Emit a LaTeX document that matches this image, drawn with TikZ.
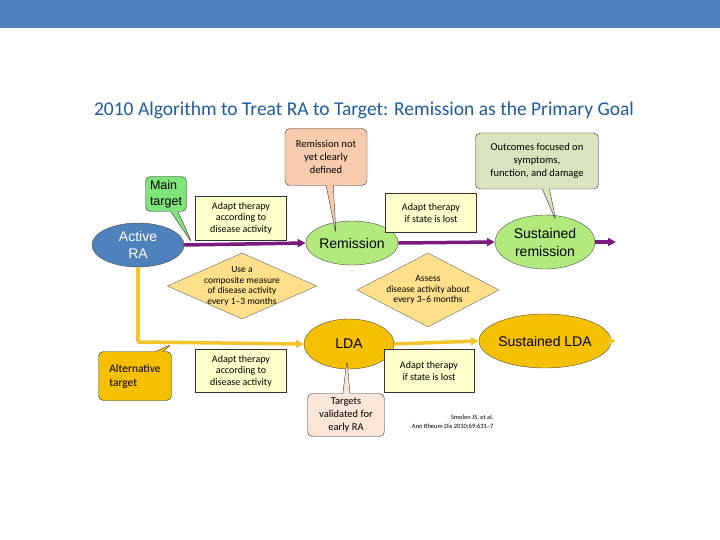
\documentclass[tikz,border=0pt]{standalone}
\usepackage{fontspec}
\setmainfont{Carlito}
\newfontfamily\arial{Liberation Sans}
\usetikzlibrary{shapes.geometric,shapes.callouts,arrows.meta}
\definecolor{topblue}{HTML}{4F81BD}
\definecolor{titleblue}{HTML}{1F5C9E}
\definecolor{purp}{HTML}{7A1A7E}
\definecolor{gold}{HTML}{F5C000}
\definecolor{goldline}{HTML}{F5C42C}
\definecolor{lgreen}{HTML}{B2EA7E}
\definecolor{mgreen}{HTML}{7FE47A}
\definecolor{peach}{HTML}{F8CBAD}
\definecolor{lpeach}{HTML}{FBE5D6}
\definecolor{ggreen}{HTML}{D7E4BD}
\definecolor{cream}{HTML}{FFFFCC}
\definecolor{dia}{HTML}{FFE08A}
\begin{document}
\begin{tikzpicture}[x=1pt,y=-1pt,
 ell/.style={ellipse,draw=black!70,inner sep=0pt,align=center,font=\arial},
 abox/.style={rectangle,draw=black!80,fill=cream,align=center,font=\fontsize{10}{11.5}\selectfont,inner sep=1pt},
 dmd/.style={diamond,draw=black!60,fill=dia,align=center,font=\fontsize{9.5}{10.5}\selectfont,inner sep=-3pt,aspect=2.4},
 call/.style={rectangle callout,draw=black!80,rounded corners=5pt,align=center,inner sep=1pt,font=\fontsize{10.5}{13}\selectfont},
 pl/.style={draw=purp,line width=3.5pt,-{Triangle[length=8pt,width=8pt]}},
 yl/.style={draw=goldline,line width=3.5pt,-{Triangle[length=8pt,width=8pt]}}]
\path[use as bounding box] (0,0) rectangle (720,540);
\fill[white] (0,0) rectangle (720,540);
\fill[topblue] (0,0) rectangle (720,28);
\node[font=\fontsize{19.5}{22}\selectfont,text=titleblue] (title) at (364,110) {2010 Algorithm to Treat RA to Target: Remission as the Primary Goal};
% nodes
\node[ell,fill=topblue,text=white,minimum width=92pt,minimum height=44pt,font=\arial\fontsize{14}{17}\selectfont] (ra) at (138,245) {Active\\RA};
\node[ell,fill=lgreen,minimum width=92pt,minimum height=44pt,font=\arial\fontsize{14}{17}\selectfont] (rem) at (352,243) {Remission};
\node[ell,fill=lgreen,minimum width=100pt,minimum height=54pt,font=\arial\fontsize{14}{18}\selectfont] (srem) at (545,242) {Sustained\\remission};
\node[ell,fill=gold,minimum width=90pt,minimum height=50pt,font=\arial\fontsize{14}{17}\selectfont] (lda) at (349,344) {LDA};
\node[ell,fill=gold,minimum width=100pt,minimum height=54pt,font=\arial\fontsize{14}{17}\selectfont] (slda) at (545,341) {Sustained LDA};
\coordinate (pend) at (616,242);
\coordinate (yend) at (616,341);
\coordinate (ycorner) at (138,342);
% connectors
\draw[pl] (ra.east) -- (rem.west);
\draw[pl] (rem.east) -- (srem.west);
\draw[pl] (srem.east) -- (pend);
\draw[draw=goldline,line width=3.5pt] (ra.south) -- (ycorner);
\draw[yl] (ycorner) -- (lda.west);
\draw[yl] (lda.east) -- (slda.west);
\draw[yl] (slda.east) -- (yend);
% boxes
\node[abox,minimum width=91pt,minimum height=44pt] (a1) at (241,218) {Adapt therapy\\according to\\disease activity};
\node[abox,minimum width=91pt,minimum height=39pt] (a2) at (431,213) {Adapt therapy\\if state is lost};
\node[abox,minimum width=91pt,minimum height=43pt] (a3) at (241,371) {Adapt therapy\\according to\\disease activity};
\node[abox,minimum width=90pt,minimum height=43pt] (a4) at (429,371) {Adapt therapy\\if state is lost};
\node[dmd,minimum width=145pt,minimum height=66pt] (d1) at (242,286) {Use a\\composite measure\\of disease activity\\every 1--3 months};
\node[dmd,minimum width=142pt,minimum height=74pt] (d2) at (428,290) {Assess\\disease activity about\\every 3--6 months};
% callouts
\node[call,fill=mgreen,minimum width=41pt,minimum height=35pt,callout absolute pointer={(192,243)},font=\arial\fontsize{12.5}{16}\selectfont,align=left,inner sep=0pt] (mt) at (166,194) {Main\\target};
\node[call,fill=peach,minimum width=82pt,minimum height=57pt,callout absolute pointer={(336,234)}] (rn) at (326,157) {Remission not\\yet clearly\\defined};
\node[call,fill=ggreen,minimum width=123pt,minimum height=56pt,callout absolute pointer={(556,221)}] (oc) at (537,161) {Outcomes focused on\\symptoms,\\function, and damage};
\node[call,fill=gold,minimum width=73pt,minimum height=49pt,callout absolute pointer={(172,344)},align=left,font=\fontsize{11.5}{14}\selectfont] (at) at (135,376) {Alternative\\target};
\node[call,fill=lpeach,minimum width=77pt,minimum height=43pt,callout absolute pointer={(347,360)}] (tv) at (346,415) {Targets\\validated for\\early RA};
\node[font=\fontsize{6.5}{9}\selectfont,align=right,anchor=east] (cite) at (497,422) {Smolen JS, et al.\\Ann Rheum Dis 2010;69:631--7};
\end{tikzpicture}
\end{document}
